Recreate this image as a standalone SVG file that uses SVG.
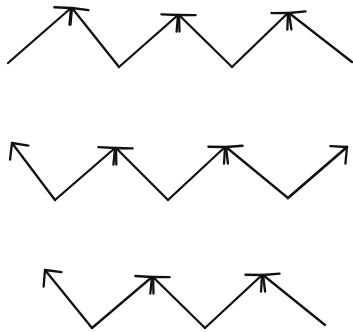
<svg xmlns="http://www.w3.org/2000/svg" width="353" height="332" viewBox="0 0 353 332">
<style>
.s{stroke:#111;stroke-width:2.3;fill:none;stroke-linecap:round;stroke-linejoin:round;marker-end:url(#ah)}
.t{stroke-width:2.8}
</style>
<defs>
<marker id="ah" markerUnits="userSpaceOnUse" markerWidth="30" markerHeight="30" viewBox="-15 -15 30 30" refX="0" refY="0" orient="auto">
<path d="M-12,-11.5 L0,0 L-12,11.5" fill="none" stroke="#111" stroke-width="2.3" stroke-linecap="round" stroke-linejoin="round"/>
</marker>
</defs>
<rect width="353" height="332" fill="#fff"/>
<g id="row1">
<line class="s" x1="8" y1="63" x2="71" y2="8"/>
<line class="s" x1="119" y1="67" x2="72" y2="8"/>
<line class="s" x1="119" y1="67" x2="178" y2="15"/>
<line class="s" x1="232" y1="67" x2="179" y2="15"/>
<line class="s" x1="232" y1="67" x2="288" y2="13"/>
<line class="s" x1="352" y1="62" x2="289" y2="13"/>
</g>
<g id="row2">
<line class="s" x1="55" y1="200" x2="12" y2="143"/>
<line class="s" x1="55" y1="200" x2="115" y2="148"/>
<line class="s" x1="168" y1="200" x2="116" y2="148"/>
<line class="s" x1="168" y1="200" x2="225" y2="147"/>
<line class="s" x1="288" y1="198" x2="226" y2="147"/>
<line class="s t" x1="288" y1="198" x2="347" y2="147"/>
</g>
<g id="row3">
<line class="s" x1="92" y1="328" x2="45" y2="270"/>
<line class="s" x1="92" y1="328" x2="152" y2="277"/>
<line class="s" x1="205" y1="328" x2="153" y2="277"/>
<line class="s" x1="205" y1="328" x2="262" y2="275"/>
<line class="s" x1="325" y1="325" x2="263" y2="275"/>
</g>
</svg>
